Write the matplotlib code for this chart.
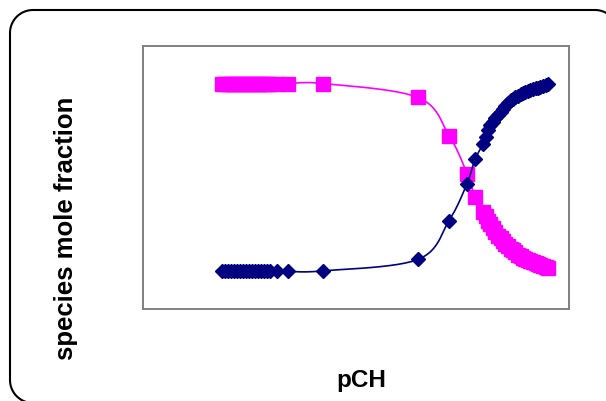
import numpy as np
import matplotlib.pyplot as plt
from matplotlib.lines import Line2D

# pCH values (x axis has no tick labels, units)
pch = [2.60, 2.70, 2.79, 2.89, 2.99, 3.09, 3.19, 3.29, 3.39, 3.48, 3.58,
       3.68, 3.78, 3.88, 3.98, 4.08, 4.17, 4.40, 4.77, 5.92, 9.04, 10.06,
       10.65, 10.91,
       11.17, 11.26, 11.34, 11.42, 11.50, 11.58, 11.67, 11.75, 11.83, 11.91,
       12.00, 12.08, 12.16, 12.24, 12.32, 12.41, 12.49, 12.57, 12.65, 12.73,
       12.82, 12.90, 12.98, 13.06, 13.15, 13.23, 13.31]

# species mole fractions
frac_magenta = [1.0] * 20 + [0.926, 0.723, 0.521, 0.394,
                             0.314, 0.293, 0.271, 0.250, 0.229, 0.210, 0.191,
                             0.176, 0.160, 0.146, 0.133, 0.122, 0.112, 0.101,
                             0.090, 0.082, 0.074, 0.066, 0.059, 0.053, 0.048,
                             0.043, 0.037, 0.032, 0.027, 0.021, 0.016]
frac_navy = [0.0] * 19 + [0.003, 0.064, 0.271, 0.468, 0.596,
                          0.676, 0.718, 0.755, 0.777, 0.798, 0.819, 0.835,
                          0.851, 0.867, 0.883, 0.899, 0.910, 0.920, 0.931,
                          0.936, 0.947, 0.952, 0.957, 0.963, 0.968, 0.973,
                          0.976, 0.979, 0.984, 0.989, 0.995, 1.0]

xlabel = "pCH"
ylabel = "species mole fraction"


def smooth(x, y, n=12):
    # catmull-rom curve through the points, like the spreadsheet "smoothed line"
    x = np.asarray(x, float)
    y = np.asarray(y, float)
    px = np.concatenate([[x[0]], x, [x[-1]]])
    py = np.concatenate([[y[0]], y, [y[-1]]])
    xs, ys = [], []
    t = np.linspace(0, 1, n, endpoint=False)
    for i in range(1, len(px) - 2):
        for p, out in ((px, xs), (py, ys)):
            p0, p1, p2, p3 = p[i - 1], p[i], p[i + 1], p[i + 2]
            out.extend(0.5 * ((2 * p1) + (-p0 + p2) * t
                              + (2 * p0 - 5 * p1 + 4 * p2 - p3) * t ** 2
                              + (-p0 + 3 * p1 - 3 * p2 + p3) * t ** 3))
    xs.append(x[-1])
    ys.append(y[-1])
    return xs, ys


W, H = 606, 401
fig = plt.figure(figsize=(W / 100, H / 100), dpi=100)
ax = fig.add_axes([143 / W, 1 - 309 / H, 426 / W, 263 / H])

sx, sy = smooth(pch, frac_magenta)
ax.plot(sx, sy, color="#FF00FF", lw=1.2, zorder=2)
ax.plot(pch, frac_magenta, ls="none", marker="s", ms=10, color="#FF00FF",
        mec="#FF00FF", zorder=3)

sx, sy = smooth(pch, frac_navy)
ax.plot(sx, sy, color="#000080", lw=1.2, zorder=4)
ax.plot(pch, frac_navy, ls="none", marker="D", ms=6.8, color="#000080",
        mec="#000080", zorder=5)

ax.set_xlim(0, 14)
ax.set_ylim(-0.2, 1.2)
ax.set_xticks([])
ax.set_yticks([])
for s in ax.spines.values():
    s.set_color("#808080")
    s.set_linewidth(1.4)

fig.text(361 / W, 1 - 380 / H, xlabel, ha="center", va="center",
         fontsize=17.5, fontweight="bold", family="Liberation Sans")
fig.text(66 / W, 1 - 228 / H, ylabel, ha="center", va="center",
         rotation=90, fontsize=18.5, fontweight="bold", family="Liberation Sans")

# rounded outer frame in pixels, open path: bottom-left corner, left side,
# top-left corner, top side, top-right corner (rest is off the picture)
left, right, top, bottom, r = 10, 618, 10, 403, 23
a = np.linspace(0, np.pi / 2, 24)
fx = np.concatenate([left + r - r * np.sin(a),
                     left + r - r * np.cos(a),
                     right - r + r * np.sin(a)])
fy = np.concatenate([bottom - r + r * np.cos(a),
                     top + r - r * np.sin(a),
                     top + r - r * np.cos(a)])
frame = Line2D(fx / W, 1 - fy / H, transform=fig.transFigure,
               color="black", lw=1.5)
frame.set_in_layout(False)
fig.add_artist(frame)

fig.savefig("out.png", dpi=100)
